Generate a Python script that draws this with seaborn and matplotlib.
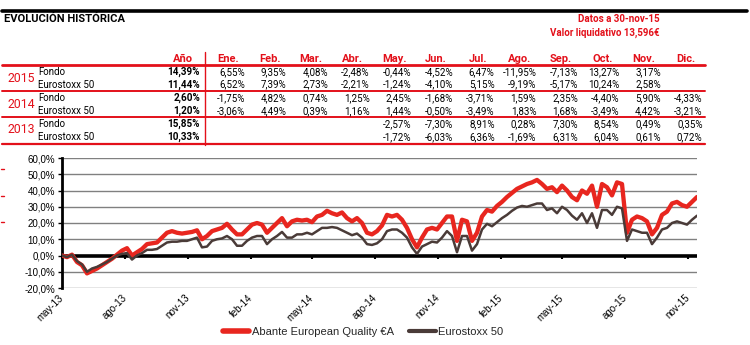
import numpy as np
import pandas as pd
import matplotlib
matplotlib.use("Agg")
import matplotlib.pyplot as plt
import matplotlib.dates as mdates
from matplotlib.lines import Line2D
import seaborn as sns

# ---------------- data ----------------
months = ['Ene.', 'Feb.', 'Mar.', 'Abr.', 'May.', 'Jun.', 'Jul.', 'Ago.', 'Sep.', 'Oct.', 'Nov.', 'Dic.']
years = ['2015', '2014', '2013']
row_names = ['Fondo', 'Eurostoxx 50']
year_fondo = [14.39, 2.60, 15.85]
year_euro = [11.44, 1.20, 10.33]
fondo_2015 = [6.55, 9.35, 4.08, -2.48, -0.44, -4.52, 6.47, -11.95, -7.13, 13.27, 3.17, None]
euro_2015 = [6.52, 7.39, 2.73, -2.21, -1.24, -4.10, 5.15, -9.19, -5.17, 10.24, 2.58, None]
fondo_2014 = [-1.75, 4.82, 0.74, 1.25, 2.45, -1.68, -3.71, 1.59, 2.35, -4.40, 5.90, -4.33]
euro_2014 = [-3.06, 4.49, 0.39, 1.16, 1.44, -0.50, -3.49, 1.83, 1.68, -3.49, 4.42, -3.21]
fondo_2013 = [None, None, None, None, -2.57, -7.30, 8.91, 0.28, 7.30, 8.54, 0.49, 0.35]
euro_2013 = [None, None, None, None, -1.72, -6.03, 6.36, -1.69, 6.31, 6.04, 0.61, 0.72]

title = 'EVOLUCIÓN HISTÓRICA'
info_lines = ['Datos a 30-nov-15', 'Valor liquidativo 13,596€']

series_names = ['Abante European Quality €A', 'Eurostoxx 50']
start_date, end_date = '2013-05-01', '2015-11-14'
fondo_cum = [0, -1, 0.5, -4, -6, -11, -9.5, -8, -6, -4, -2, 0.5, 3, 4.5, 0, 2, 4, 7, 7.5, 8,
             11, 14, 15, 14, 13.5, 14, 14.5, 15.5, 10, 12, 15, 16, 17, 19.5, 16, 13, 13, 16, 19, 20,
             19, 14, 17, 20, 23, 18, 21, 22, 21.5, 22, 20.5, 24, 25, 27.5, 26, 25, 26.5, 23, 21, 23,
             20, 14, 13, 15, 18.5, 25, 24, 25, 22, 17, 10, 5, 11, 16, 17, 16, 20, 24, 24, 9,
             22, 21, 9, 14, 24, 28, 27, 30.5, 33, 36, 38.5, 41, 42.5, 44, 45, 46.5, 44, 41, 42, 39,
             43, 40, 36, 34, 40, 38, 43, 30, 44, 42, 37, 45, 44, 14, 22, 24, 23, 21, 13, 17,
             25, 27, 32, 33, 31, 30, 33, 36]
euro_cum = [0, -1, 0.5, -3.5, -5.5, -10, -8, -7, -5.5, -4, -2, 0, 1, 1.5, -2.5, 0, 1.5, 3.5, 3.5, 4,
            6, 8, 8.5, 8.5, 9, 9, 10, 11, 5, 5.5, 9, 10, 10.5, 12, 10, 6, 6, 9, 11, 12,
            12, 7, 10, 12, 14.5, 11, 11, 13, 13, 14, 13, 15, 17, 17, 17.5, 17, 15.5, 14, 12.5, 13.5,
            11, 7, 6.5, 7.5, 10, 15, 16, 16, 14, 11, 5, 1, 5.5, 7, 8.5, 8, 11, 15, 12, 2,
            12, 12, 3, 7, 16, 19.5, 18, 20.5, 23, 25, 27.5, 29.5, 30.5, 30, 31, 32, 32, 28, 29, 26,
            30, 28, 24.5, 22, 26, 20, 26, 17, 28, 28, 25, 30, 29, 9, 16, 15, 14, 14, 7, 11,
            16, 17, 20, 21, 20, 19, 22, 24.5]

tick_labels = ['may-13', 'ago-13', 'nov-13', 'feb-14', 'may-14', 'ago-14', 'nov-14',
               'feb-15', 'may-15', 'ago-15', 'nov-15']
tick_dates = ['2013-05-01', '2013-08-01', '2013-11-01', '2014-02-01', '2014-05-01', '2014-08-01',
              '2014-11-01', '2015-02-01', '2015-05-01', '2015-08-01', '2015-11-01']
y_ticks = [-20, -10, 0, 10, 20, 30, 40, 50, 60]

# ---------------- style ----------------
sns.set_theme(style='white')
plt.rcParams['font.family'] = ['Liberation Sans', 'DejaVu Sans']

RED = '#e3101a'
LINE_RED = '#e8261f'
DARK = '#4a3b38'
W, H = 750, 345

fig = plt.figure(figsize=(7.5, 3.45), dpi=100)
fig.patch.set_facecolor('white')


def fx(x):
    return x / W


def fy(y):
    return 1 - y / H


def ftext(x, y, s, **kw):
    fig.text(fx(x), fy(y), s, **kw)


def hline(y, x0, x1, color, lw):
    fig.add_artist(Line2D([fx(x0), fx(x1)], [fy(y), fy(y)], color=color, lw=lw,
                          transform=fig.transFigure))


def fmt(v):
    return '' if v is None else f'{v:.2f}%'.replace('.', ',')


TF = ['Roboto', 'DejaVu Sans']

# header
hline(10.5, 2, 747, 'black', 2.6)
ftext(4, 18.5, title, fontsize=8.0, fontweight='bold', color='black', family=TF,
      ha='left', va='center')
ftext(660, 18.5, info_lines[0], fontsize=7.0, fontweight='bold', color=RED, family=TF,
      ha='right', va='center')
ftext(660, 33, info_lines[1], fontsize=7.0, fontweight='bold', color=RED, family=TF,
      ha='right', va='center')

# table
col_right = [200] + [245 + 41.6 * i for i in range(12)]
headers = ['Año'] + months
for xr, h in zip(col_right, headers):
    ftext(xr - 17, 59, h, fontsize=8.0, fontweight='bold', color=RED, family=TF,
          ha='center', va='center')

fondo_rows = [fondo_2015, fondo_2014, fondo_2013]
euro_rows = [euro_2015, euro_2014, euro_2013]
row_y = [(72, 84.5), (98, 111), (124, 137)]
year_y = [78, 104, 129.5]
for i in range(3):
    ftext(7, year_y[i], years[i], fontsize=8.8, color=RED, family=TF, ha='left', va='center')
    for j, (vals, yv) in enumerate([(fondo_rows[i], year_fondo[i]), (euro_rows[i], year_euro[i])]):
        y = row_y[i][j]
        ftext(38, y, row_names[j], fontsize=7.0, color='black', family=TF, ha='left', va='center')
        ftext(col_right[0], y, fmt(yv), fontsize=7.1, fontweight='bold', color='black',
              family=TF, ha='right', va='center')
        for k, v in enumerate(vals):
            if v is not None:
                ftext(col_right[k + 1], y, fmt(v), fontsize=7.0, color='black', family=TF,
                      ha='right', va='center')

hline(64.5, 2, 705, RED, 2.0)
hline(91, 2, 705, RED, 1.4)
hline(117, 2, 705, RED, 1.4)
hline(143.5, 2, 705, RED, 1.6)
fig.add_artist(Line2D([fx(205), fx(205)], [fy(52), fy(145)], color=RED, lw=1.0,
                      transform=fig.transFigure))

# small red marks on the left margin
for yy in [169, 196, 222]:
    hline(yy, 1, 4, RED, 1.0)

# ---------------- chart ----------------
ax = fig.add_axes([fx(62), fy(288), (697 - 62) / W, (288 - 158) / H])
dates = pd.date_range(start_date, end_date, periods=len(fondo_cum))
df = pd.DataFrame({
    'fecha': np.concatenate([dates, dates]),
    'valor': fondo_cum + euro_cum,
    'serie': [series_names[0]] * len(fondo_cum) + [series_names[1]] * len(euro_cum),
})

for yv in y_ticks:
    if yv != 0:
        ax.axhline(yv, color='#808080', lw=1.0, zorder=0)
ax.axhline(0, color='black', lw=2.6, zorder=1)

sns.lineplot(data=df[df.serie == series_names[0]], x='fecha', y='valor', color=LINE_RED,
             lw=3.1, ax=ax, legend=False, zorder=3)
sns.lineplot(data=df[df.serie == series_names[1]], x='fecha', y='valor', color=DARK,
             lw=1.8, ax=ax, legend=False, zorder=4)

ax.set_xlim(pd.Timestamp(start_date), pd.Timestamp(end_date))
ax.set_ylim(-20, 60)
ax.set_yticks(y_ticks)
ax.set_yticklabels([f'{v:.1f}%'.replace('.', ',') for v in y_ticks])
ax.set_xticks(pd.to_datetime(tick_dates))
ax.set_xticklabels(tick_labels, rotation=45, ha='right', va='center', rotation_mode='anchor')
ax.tick_params(axis='x', length=0, pad=6, labelsize=7.0, colors='black')
ax.tick_params(axis='y', length=3, width=1, direction='out', left=True, pad=2,
               labelsize=7.0, colors='black')
ax.set_xlabel('')
ax.set_ylabel('')
for s in ['top', 'right', 'bottom']:
    ax.spines[s].set_visible(False)
ax.spines['left'].set_color('black')
ax.spines['left'].set_linewidth(2.0)
ax.set_facecolor('white')

# zero-line tick marks
sec = ax.secondary_xaxis(0.25)
sec.set_xticks(mdates.date2num(pd.to_datetime(tick_dates)))
sec.tick_params(axis='x', length=2.5, width=1.5, direction='out', labelbottom=False, colors='black')
sec.spines['bottom'].set_visible(False)

handles = [Line2D([], [], color=LINE_RED, lw=4), Line2D([], [], color=DARK, lw=3)]
fig.legend(handles, series_names, loc='center', bbox_to_anchor=(fx(363), fy(332)), ncol=2,
           frameon=False, fontsize=8.0, handlelength=2.4, handletextpad=0.2, columnspacing=1.4)

fig.savefig('out.png', dpi=100, facecolor='white')
